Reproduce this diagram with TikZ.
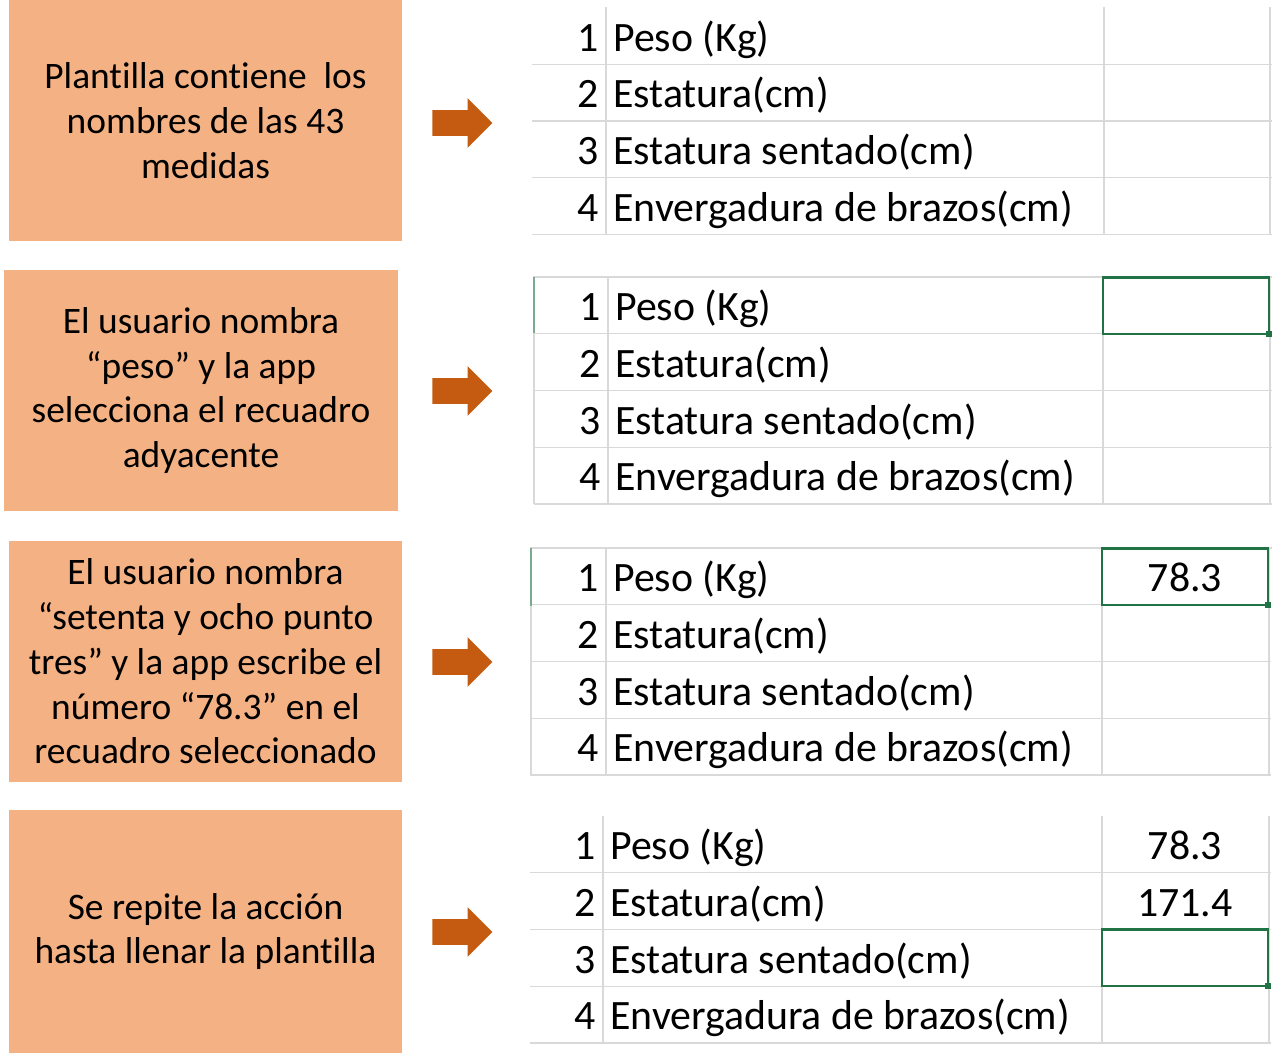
\documentclass[tikz,border=0pt]{standalone}
\usepackage{fontspec}
\setmainfont{Carlito}[RawFeature=-liga]
\usetikzlibrary{shapes.arrows}
\usepackage{xcolor}
\definecolor{boxcolor}{HTML}{F4B183}
\definecolor{arrowcolor}{HTML}{C55A11}
\definecolor{gridcolor}{HTML}{D9D9D9}
\definecolor{selcolor}{HTML}{217346}

\begin{document}
\begin{tikzpicture}[
    x=0.02cm, y=-0.02cm,
    % Node styles
    pasobox/.style={rectangle, fill=boxcolor, minimum width=7.88cm, minimum height=4.82cm, inner sep=0pt, align=center, font=\fontsize{21.3}{25.5}\selectfont},
    flecha/.style={single arrow, fill=arrowcolor, minimum height=1.2cm, minimum width=0.98cm, single arrow head extend=0.24cm, inner sep=0pt, inner ysep=0.25cm},
    num/.style={anchor=base east, inner sep=0pt, font=\fontsize{23.8}{23.8}\selectfont},
    campo/.style={anchor=base west, inner sep=0pt, font=\fontsize{23.8}{23.8}\selectfont},
    valor/.style={anchor=base, inner sep=0pt, font=\fontsize{23.8}{23.8}\selectfont},
    % Line styles
    grid/.style={gridcolor, line width=0.7pt},
    sel/.style={selcolor, line width=1.2pt},
]
\useasboundingbox (0,0) rectangle (1272,1053);

% Step boxes
\node[pasobox] (paso1) at (205.5,120.5) {Plantilla contiene\ \ los\\nombres de las 43\\medidas};
\node[pasobox] (paso2) at (201,390.5) {El usuario nombra\\“peso” y la app\\selecciona el recuadro\\adyacente};
\node[pasobox] (paso3) at (205.5,661.5) {El usuario nombra\\“setenta y ocho punto\\tres” y la app escribe el\\número “78.3” en el\\recuadro seleccionado};
\node[pasobox, minimum height=4.86cm] (paso4) at (205.5,931.5) {Se repite la acción\\hasta llenar la plantilla};

% Block arrows
\node[flecha] (flecha1) at (456,123) {};
\node[flecha] (flecha2) at (456,391) {};
\node[flecha] (flecha3) at (456,662) {};
\node[flecha] (flecha4) at (456,932) {};

% Spreadsheet tables
\foreach \t/\top/\lx/\nd/\cd/\rx in {1/7.5/532/606/1104/1270, 2/277/534/608/1103/1270, 3/548/530/606/1102/1269, 4/816/530/603/1102/1269} {
  \foreach \k in {1,...,4}
    \draw[grid] (\lx,\top+\k*56.75) -- (\rx+2,\top+\k*56.75);
  \foreach \vx in {\nd,\cd,\rx}
    \draw[grid] (\vx,\top) -- (\vx,\top+227);
  \foreach \txt [count=\i] in {Peso (Kg), Estatura(cm), Estatura sentado(cm), Envergadura de brazos(cm)} {
    \node[num] (t\t-n\i) at (\nd-7,\top+\i*56.75-13) {\i};
    \node[campo] (t\t-c\i) at (\nd+7,\top+\i*56.75-13) {\txt};
  }
}

% Top and left edges of tables 2 and 3
\draw[grid] (534,504) -- (534,277) -- (1272,277);
\draw[grid] (531,775) -- (531,548) -- (1272,548);
\draw[selcolor!60, line width=0.8pt] (534,277) -- (534,333);
\draw[selcolor!60, line width=0.8pt] (531,548) -- (531,606);

% Values written
\node[valor] (v3a) at (1185,548+56.75-13) {78.3};
\node[valor] (v4a) at (1185,816+56.75-13) {78.3};
\node[valor] (v4b) at (1185,816+2*56.75-13) {171.4};

% Selected cells
\draw[sel] (1103,277.5) rectangle (1269,333.75);
\fill[selcolor] (1266,331) rectangle (1272,337);
\draw[sel] (1102,548.5) rectangle (1268,604.75);
\fill[selcolor] (1265,602) rectangle (1271,608);
\draw[sel] (1102,929.5) rectangle (1268,986);
\fill[selcolor] (1265,983) rectangle (1271,989);

\end{tikzpicture}
\end{document}
